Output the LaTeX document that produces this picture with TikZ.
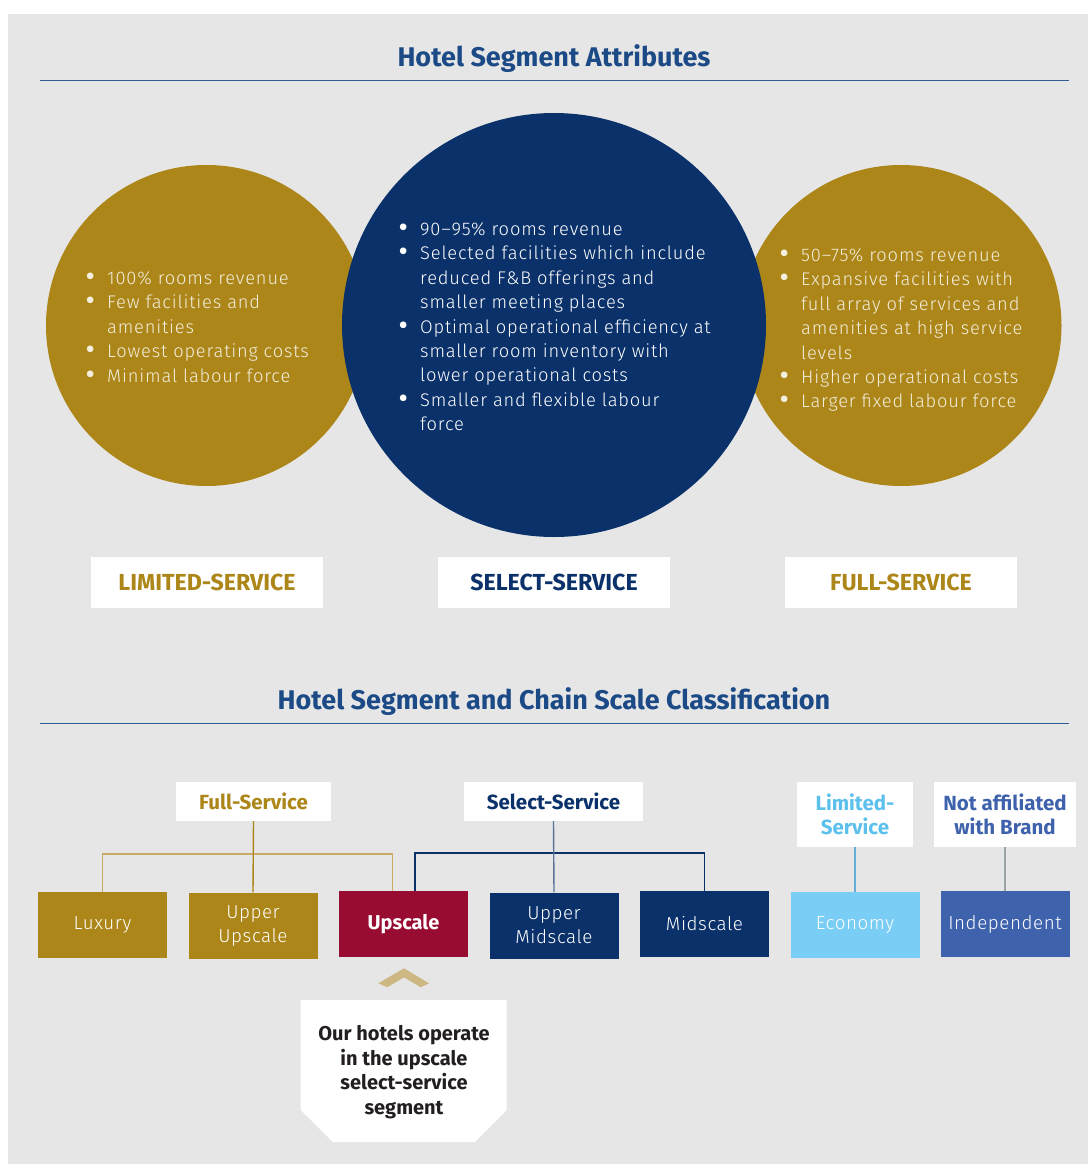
\documentclass[tikz,border=0pt]{standalone}
\usepackage{fontspec}
\setmainfont{Fira Sans}
\newfontfamily\lightfont{Fira Sans Light}[LetterSpace=4.5]
\newfontfamily\boxfont{Fira Sans Light}[LetterSpace=3]
\newfontfamily\dotfont{Fira Sans}

\definecolor{bgray}{HTML}{E6E6E6}
\definecolor{gold}{HTML}{AC8618}
\definecolor{navy}{HTML}{0A316A}
\definecolor{crimson}{HTML}{990C32}
\definecolor{sky}{HTML}{7ACDF4}
\definecolor{indep}{HTML}{3F62AD}
\definecolor{titleblue}{HTML}{1B4A86}
\definecolor{rulecol}{HTML}{2F5E96}
\definecolor{skytext}{HTML}{5BC1EC}
\definecolor{chev}{HTML}{CDB783}
\definecolor{cream}{HTML}{F3EEDD}
\definecolor{darktext}{HTML}{231F20}
\definecolor{goldline}{HTML}{C8AA62}
\definecolor{navyline}{HTML}{5A7398}
\definecolor{grayline}{HTML}{9AA4A8}

\newcommand{\bl}{\makebox[21pt][l]{\dotfont\bfseries\fontsize{24}{24}\selectfont •}}
\newcommand{\ind}{\hspace*{21pt}}

\tikzset{
  title/.style={font=\fontsize{27}{30}\selectfont\bfseries, text=titleblue},
  bullets/.style={anchor=base west, inner sep=0pt, align=left,
    font=\lightfont\fontsize{18.3}{24.4}\selectfont},
  segment/.style={fill=white, minimum width=232pt, minimum height=51pt,
    inner sep=0pt, font=\fontsize{23.2}{24}\selectfont\bfseries},
  header/.style={fill=white, inner sep=0pt, align=center,
    font=\fontsize{20.5}{24}\selectfont\bfseries},
  scale box/.style={minimum width=129pt, minimum height=66pt, inner sep=0pt,
    align=center, text=white, font=\boxfont\fontsize{18.8}{24}\selectfont},
  link/.style={line width=1.4pt},
}

\begin{document}
\begin{tikzpicture}[x=1pt,y=-1pt]
\useasboundingbox (0,0) rectangle (1088,1164);
\fill[bgray] (8,14) rectangle (1088,1164);

% ---------- Hotel Segment Attributes ----------
\node[title] (t1) at (554,58.5) {Hotel Segment Attributes};
\draw[rulecol, line width=1.5pt] (40,80.7) -- (1069,80.7);

\node[circle, fill=gold, minimum size=321pt, inner sep=0pt] (lc) at (206.5,325.5) {};
\node[circle, fill=gold, minimum size=321pt, inner sep=0pt] (rc) at (901,325.5) {};
\node[circle, fill=navy, minimum size=424pt, inner sep=0pt] (mc) at (554,325) {};

\node[bullets, text=cream] (lt) at (86,284.5) {%
\begin{tabular}[t]{@{}l@{}}
\bl 100\% rooms revenue\\
\bl Few facilities and\\
\ind amenities\\
\bl Lowest operating costs\\
\bl Minimal labour force
\end{tabular}};

\node[bullets, text=white] (mt) at (399,235.5) {%
\begin{tabular}[t]{@{}l@{}}
\bl 90–95\% rooms revenue\\
\bl Selected facilities which include\\
\ind reduced F\&B offerings and\\
\ind smaller meeting places\\
\bl Optimal operational efficiency at\\
\ind smaller room inventory with\\
\ind lower operational costs\\
\bl Smaller and flexible labour\\
\ind force
\end{tabular}};

\node[bullets, text=cream] (rt) at (780,261.5) {%
\begin{tabular}[t]{@{}l@{}}
\bl 50–75\% rooms revenue\\
\bl Expansive facilities with\\
\ind full array of services and\\
\ind amenities at high service\\
\ind levels\\
\bl Higher operational costs\\
\bl Larger fixed labour force
\end{tabular}};

\node[segment, text=gold] (ls) at (207,582.5) {LIMITED-SERVICE};
\node[segment, text=navy] (ss) at (554,582.5) {SELECT-SERVICE};
\node[segment, text=gold] (fs) at (901,582.5) {FULL-SERVICE};

% ---------- Hotel Segment and Chain Scale Classification ----------
\node[title] (t2) at (554,701.5) {Hotel Segment and Chain Scale Classification};
\draw[rulecol, line width=1.5pt] (40,723.5) -- (1069,723.5);

\node[header, text=gold, minimum width=155pt, minimum height=39pt] (hfull) at (253.5,801.5) {Full-Service};
\node[header, text=navy, minimum width=179pt, minimum height=39pt] (hsel) at (553.5,801.5) {Select-Service};
\node[header, text=skytext, minimum width=116pt, minimum height=65pt] (hlim) at (855,814.5) {Limited-\\Service};
\node[header, text=indep, minimum width=142pt, minimum height=65pt] (hind) at (1005,814.5) {Not affiliated\\with Brand};

\node[scale box, fill=gold] (lux) at (102.5,925) {Luxury};
\node[scale box, fill=gold] (uup) at (253,925.5) {Upper\\Upscale};
\node[scale box, fill=crimson, font=\fontsize{20}{24}\selectfont\bfseries] (ups) at (403.5,924) {Upscale};
\node[scale box, fill=navy] (umid) at (554,925.5) {Upper\\Midscale};
\node[scale box, fill=navy] (mid) at (704.5,924) {Midscale};
\node[scale box, fill=sky] (eco) at (855,925) {Economy};
\node[scale box, fill=indep] (ind) at (1005,924) {Independent};

% connectors
\coordinate (upsL) at ([xshift=-11pt]ups.north);
\coordinate (upsR) at ([xshift=11.5pt]ups.north);
\draw[link, goldline] (lux.north) -- ++(0,-38) -| (upsL);
\draw[link, gold] (hfull.south) -- (uup.north);
\draw[link, navy] (upsR) -- ++(0,-38) -| (mid.north);
\draw[link, navyline] (hsel.south) -- (umid.north);
\draw[link, sky!80!navy] (hlim.south) -- (eco.north);
\draw[link, grayline] (hind.south) -- (ind.north);

% pointer and note
\fill[chev] (378.3,983.3) -- (404,968.3) -- (429,983.3) -- (420.7,987.3)
  -- (404,977.3) -- (387.3,987.3) -- cycle;
\fill[white] (300.7,1000) -- (506.7,1000) -- (506.7,1110) -- (475,1142)
  -- (333,1142) -- (300.7,1110) -- cycle;
\node[align=center, text=darktext, font=\fontsize{20}{24.5}\selectfont\bfseries] (note) at (404,1072)
  {Our hotels operate\\in the upscale\\select-service\\segment};
\end{tikzpicture}
\end{document}
